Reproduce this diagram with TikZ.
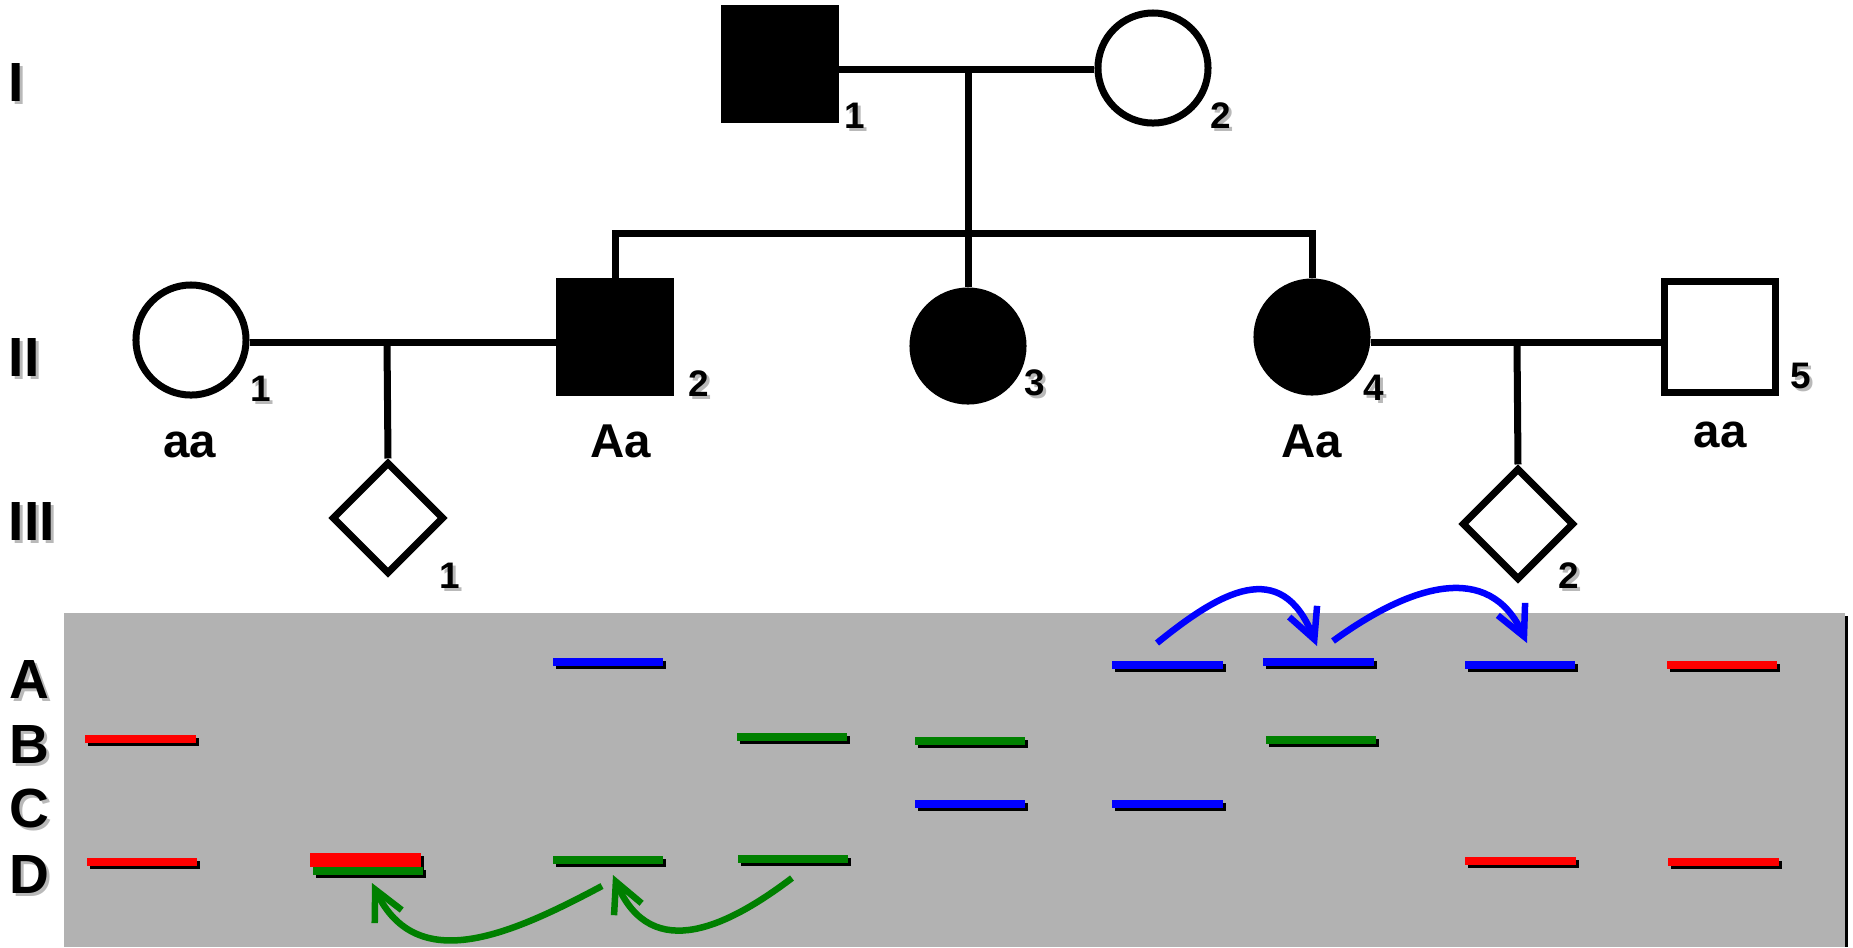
\documentclass[tikz,border=0pt]{standalone}
\usepackage{fontspec}
\setmainfont{Liberation Sans}
\usetikzlibrary{shapes.geometric,arrows.meta,shadows,calc}

\definecolor{gelgray}{RGB}{178,178,178}
\definecolor{bandred}{RGB}{255,0,0}
\definecolor{bandblue}{RGB}{0,0,255}
\definecolor{bandgreen}{RGB}{0,128,0}
\definecolor{txtshadow}{RGB}{185,185,185}

% bold label with a light drop shadow behind it
\newcommand\shadowtext[1]{\makebox[0pt][l]{\kern0.03cm\raisebox{-0.03cm}{\color{txtshadow}#1}}#1}

\begin{document}
\begin{tikzpicture}[x=0.01cm,y=-0.01cm,
  pedline/.style={line width=0.07cm, black},
  male/.style={draw, rectangle, line width=0.07cm, minimum size=1.11cm, inner sep=0pt},
  female/.style={draw, circle, line width=0.07cm, minimum size=1.10cm, inner sep=0pt},
  unknown/.style={draw, diamond, aspect=1, line width=0.07cm, minimum size=1.12cm, inner sep=0pt},
  affected/.style={fill=black},
  numlab/.style={anchor=base west, inner sep=0pt, font=\bfseries\fontsize{10.5}{12}\selectfont},
  geno/.style={anchor=base, inner sep=0pt, font=\bfseries\fontsize{13.5}{16}\selectfont},
  genlab/.style={anchor=base west, inner sep=0pt, font=\bfseries\fontsize{15.7}{18}\selectfont},
  band/.style={rectangle, inner sep=0pt, minimum width=1.10cm, minimum height=0.08cm,
    drop shadow={shadow xshift=0.03cm, shadow yshift=-0.03cm, fill=black, opacity=1}},
  mig/.style={line width=0.065cm, -{Straight Barb[length=0.30cm, width=0.30cm, sharp] .}}
]
\useasboundingbox (0,0) rectangle (1853,947);

% ---------- pedigree ----------
\node[male, affected] (I1) at (780,64) {};
\node[female] (I2) at (1153,68) {};
\node[female] (II1) at (191,340) {};
\node[male, affected] (II2) at (615,337) {};
\node[female, affected] (II3) at (968,346) {};
\node[female, affected] (II4) at (1312,337) {};
\node[male] (II5) at (1720,337) {};
\node[unknown] (III1) at (388,518) {};
\node[unknown] (III2) at (1518,524) {};

\coordinate (mI) at (968,69);
\coordinate (sib) at (968,233);
\coordinate (m1) at (387,342);
\coordinate (m2) at (1517,342);

\draw[pedline] (I1.east |- mI) -- (I2.west |- mI);
\draw[pedline] (mI) -- (II3.north);
\draw[pedline] (II2.north) -- (II2.north |- sib) -- (II4.north |- sib) -- (II4.north);
\draw[pedline] (II1.east |- m1) -- (II2.west |- m1);
\draw[pedline] (m1) -- (III1.north);
\draw[pedline] (II4.east |- m2) -- (II5.west |- m2);
\draw[pedline] (m2) -- (III2.north);

% generation numerals
\node[genlab] (gI) at (8,101) {\shadowtext{I}};
\node[genlab] (gII) at (8,376) {\shadowtext{II}};
\node[genlab] (gIII) at (8,540) {\shadowtext{III}};

% individual numbers
\node[numlab] (nI1) at (844,128) {\shadowtext{1}};
\node[numlab] (nI2) at (1210,128) {\shadowtext{2}};
\node[numlab] (nII1) at (250,401) {\shadowtext{1}};
\node[numlab] (nII2) at (688,396) {\shadowtext{2}};
\node[numlab] (nII3) at (1024,395) {\shadowtext{3}};
\node[numlab] (nII4) at (1363,400) {\shadowtext{4}};
\node[numlab] (nII5) at (1790,388) {\shadowtext{5}};
\node[numlab] (nIII1) at (439,588) {\shadowtext{1}};
\node[numlab] (nIII2) at (1558,588) {\shadowtext{2}};

% genotypes
\node[geno] (gtII1) at (190,457) {aa};
\node[geno] (gtII2) at (621,457) {Aa};
\node[geno] (gtII4) at (1312,457) {Aa};
\node[geno] (gtII5) at (1720,447) {aa};

% ---------- gel ----------
\fill[black] (67,616) rectangle (1848,947);
\fill[gelgray] (64,613) rectangle (1845,947);

\node[genlab] (rA) at (9,698) {\shadowtext{A}};
\node[genlab] (rB) at (9,763) {\shadowtext{B}};
\node[genlab] (rC) at (9,827) {\shadowtext{C}};
\node[genlab] (rD) at (9,893) {\shadowtext{D}};

% lane 1
\node[band, fill=bandred] (B1) at (140.5,739) {};
\node[band, fill=bandred] (D1) at (142,862) {};
% lane 2
\node[band, fill=bandred, minimum height=0.14cm] (D2r) at (365.5,860) {};
\node[band, fill=bandgreen] (D2g) at (368,871) {};
% lane 3
\node[band, fill=bandblue] (A3) at (608,662) {};
\node[band, fill=bandgreen] (D3) at (608,860) {};
% lane 4
\node[band, fill=bandgreen] (B4) at (792,737) {};
\node[band, fill=bandgreen] (D4) at (793,859) {};
% lane 5
\node[band, fill=bandgreen] (B5) at (970,741) {};
\node[band, fill=bandblue] (C5) at (970,804) {};
% lane 6
\node[band, fill=bandblue] (A6) at (1167.5,665) {};
\node[band, fill=bandblue] (C6) at (1167.5,804) {};
% lane 7
\node[band, fill=bandblue] (A7) at (1318.5,662) {};
\node[band, fill=bandgreen] (B7) at (1321,740) {};
% lane 8
\node[band, fill=bandblue] (A8) at (1520,665) {};
\node[band, fill=bandred] (D8) at (1520.5,861) {};
% lane 9
\node[band, fill=bandred] (A9) at (1722,665) {};
\node[band, fill=bandred] (D9) at (1723.5,862) {};

% allele tracing arrows
\coordinate (b1s) at (1157,643);
\coordinate (b1t) at (1317,646);
\coordinate (b2s) at (1333,641);
\coordinate (b2t) at (1527,643);
\coordinate (g1s) at (602,886);
\coordinate (g1t) at (372,883);
\coordinate (g2s) at (792,878);
\coordinate (g2t) at (613,875);

\draw[mig, bandblue] (b1s) .. controls (1220,592) and (1281,556) .. (b1t);
\draw[mig, bandblue] (b2s) .. controls (1410,585) and (1489,560) .. (b2t);
\draw[mig, bandgreen] (g1s) .. controls (510,935) and (417,976) .. (g1t);
\draw[mig, bandgreen] (g2s) .. controls (730,925) and (652,965) .. (g2t);
\end{tikzpicture}
\end{document}
